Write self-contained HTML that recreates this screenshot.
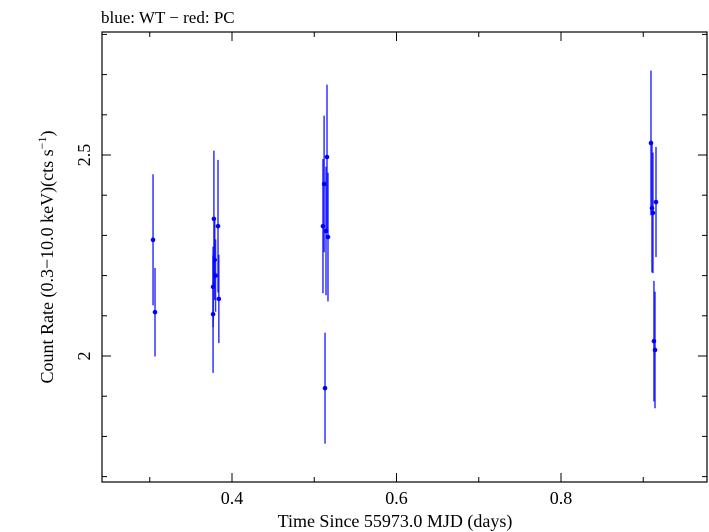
<!DOCTYPE html>
<html><head><meta charset="utf-8"><style>
body{margin:0;background:#fff;}
svg{display:block;font-family:"Liberation Serif",serif;}
</style></head><body>
<svg width="709" height="532">
<g id="plot"></g>
<text x="101" y="23" font-size="17">blue: WT − red: PC</text>
<text x="395" y="527" font-size="18" text-anchor="middle">Time Since 55973.0 MJD (days)</text>
<text transform="translate(53,257) rotate(-90)" font-size="18" text-anchor="middle">Count Rate (0.3−10.0 keV)(cts s<tspan dy="-7" font-size="12">−1</tspan><tspan dy="7">)</tspan></text>
</svg>
<script>
const xs=[0.304,0.3064,0.377,0.378,0.383,0.384,0.377,0.379,0.380,0.5155,0.512,0.5106,0.5143,0.5167,0.5131,0.9094,0.9106,0.9118,0.9155,0.913,0.9143];
const ys=[2.289,2.109,2.104,2.341,2.323,2.142,2.172,2.239,2.2,2.495,2.428,2.323,2.311,2.296,1.920,2.530,2.368,2.356,2.383,2.037,2.015];
const errs=[0.163,0.11,0.146,0.17,0.165,0.11,0.1,0.1,0.09,0.18,0.17,0.167,0.16,0.16,0.138,0.18,0.16,0.15,0.137,0.15,0.145];
const xTicks=[0.4,0.6,0.8];
const yTicks=[2,2.5];
const L=102,R=707,T=32,B=482;
const X=v=>232+(v-0.4)*822.5;
const Y=v=>356-(v-2)*402;
const NS="http://www.w3.org/2000/svg";
const g=document.getElementById('plot');
function mk(t,a){const e=document.createElementNS(NS,t);for(const k in a)e.setAttribute(k,a[k]);g.appendChild(e);return e;}
const frame=mk('rect',{x:L,y:T,width:R-L,height:B-T,fill:'none',stroke:'#000','stroke-width':1.2});


for(let v=0.3;v<0.96;v+=0.1){const maj=xTicks.some(t=>Math.abs(t-v)<1e-6);const len=maj?9:5;const px=X(v);
const t1=mk('line',{x1:px,x2:px,y1:B,y2:B-len,stroke:'#000'});


const t2=mk('line',{x1:px,x2:px,y1:T,y2:T+len,stroke:'#000'});

}
xTicks.forEach(v=>{const t=mk('text',{x:X(v),y:B+22,'font-size':18,'text-anchor':'middle'});t.textContent=v.toFixed(1);

});
for(let v=1.7;v<2.81;v+=0.1){const maj=yTicks.some(t=>Math.abs(t-v)<1e-6);const len=maj?9:5;const py=Y(v);
const t1=mk('line',{x1:L,x2:L+len,y1:py,y2:py,stroke:'#000'});


const t2=mk('line',{x1:R,x2:R-len,y1:py,y2:py,stroke:'#000'});

}
yTicks.forEach(v=>{const t=mk('text',{transform:`translate(${L-12},${Y(v)}) rotate(-90)`,'font-size':18,'text-anchor':'middle'});t.textContent=String(v);

});
xs.forEach((x,i)=>{const px=X(x);
const e=mk('line',{x1:px,x2:px,y1:Y(ys[i]+errs[i]),y2:Y(ys[i]-errs[i]),stroke:'#0000ff','stroke-width':1.5,'stroke-opacity':0.8});


const c=mk('circle',{cx:px,cy:Y(ys[i]),r:2.3,fill:'#0000ff'});

});
</script>
</body></html>
